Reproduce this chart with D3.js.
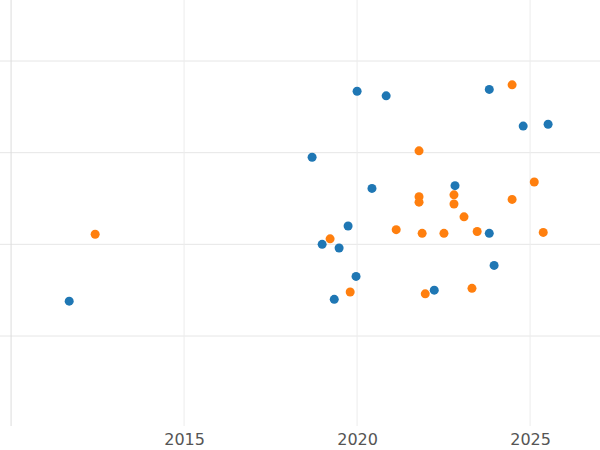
<!DOCTYPE html>
<html>
<head>
<meta charset="utf-8">
<script src="https://cdn.jsdelivr.net/npm/d3@7"></script>
<style>body{margin:0;background:#fff}</style>
</head>
<body>
<div id="chart"></div>
<script>
const blueX = [2011.68, 2020.0, 2020.84, 2023.82, 2024.8, 2025.52, 2018.7, 2020.43, 2022.83, 2019.74, 2018.99, 2019.48, 2023.82, 2023.96, 2019.97, 2019.34, 2022.23]
const blueY = [1.38, 3.67, 3.62, 3.69, 3.29, 3.31, 2.95, 2.61, 2.64, 2.20, 2.00, 1.96, 2.12, 1.77, 1.65, 1.40, 1.50]
const orangeX = [2012.43, 2024.48, 2021.79, 2025.12, 2021.79, 2021.79, 2022.8, 2022.8, 2024.48, 2023.09, 2019.22, 2021.13, 2021.88, 2022.51, 2023.47, 2025.38, 2019.8, 2021.97, 2023.32]
const orangeY = [2.11, 3.74, 3.02, 2.68, 2.52, 2.46, 2.54, 2.44, 2.49, 2.30, 2.06, 2.16, 2.12, 2.12, 2.14, 2.13, 1.48, 1.46, 1.52]
const xTicks = [2015, 2020, 2025]
const xGrid = [2010, 2015, 2020, 2025]
const yGrid = [1, 2, 3, 4]

const width = 600, height = 450, plotBottom = 426
const x = d3.scaleLinear().domain([2009.68, 2027.02]).range([0, width])
const y = d3.scaleLinear().domain([1, 4]).range([336, 61])

const svg = d3.select('#chart').append('svg').attr('width', width).attr('height', height)

svg.selectAll('.hg').data(yGrid).join('line')
    .attr('x1', 0).attr('x2', width)
    .attr('y1', d => y(d)).attr('y2', d => y(d))
    .attr('stroke', '#e6e6e6').attr('stroke-width', 1)

svg.selectAll('.vg').data(xGrid).join('line')
    .attr('x1', d => x(d)).attr('x2', d => x(d))
    .attr('y1', 0).attr('y2', plotBottom)
    .attr('stroke', d => d === 2010 ? '#dcdcdc' : '#ececec').attr('stroke-width', 1)

const xAxis = svg.append('g').attr('transform', `translate(0, ${ plotBottom })`)
    .call(d3.axisBottom(x).tickValues(xTicks).tickFormat(d3.format('d')).tickSize(0).tickPadding(8))
xAxis.select('.domain').remove()
xAxis.selectAll('text').attr('font-family', 'DejaVu Sans').attr('font-size', 16).attr('fill', '#555')

const series = [
    { xs: blueX, ys: blueY, color: '#1f77b4' },
    { xs: orangeX, ys: orangeY, color: '#ff7f0e' },
]
series.forEach(s => {
    svg.append('g').selectAll('circle').data(s.xs.map((v, i) => [v, s.ys[i]])).join('circle')
        .attr('cx', d => x(d[0])).attr('cy', d => y(d[1])).attr('r', 4.5)
        .attr('fill', s.color)
})
</script>
</body>
</html>
